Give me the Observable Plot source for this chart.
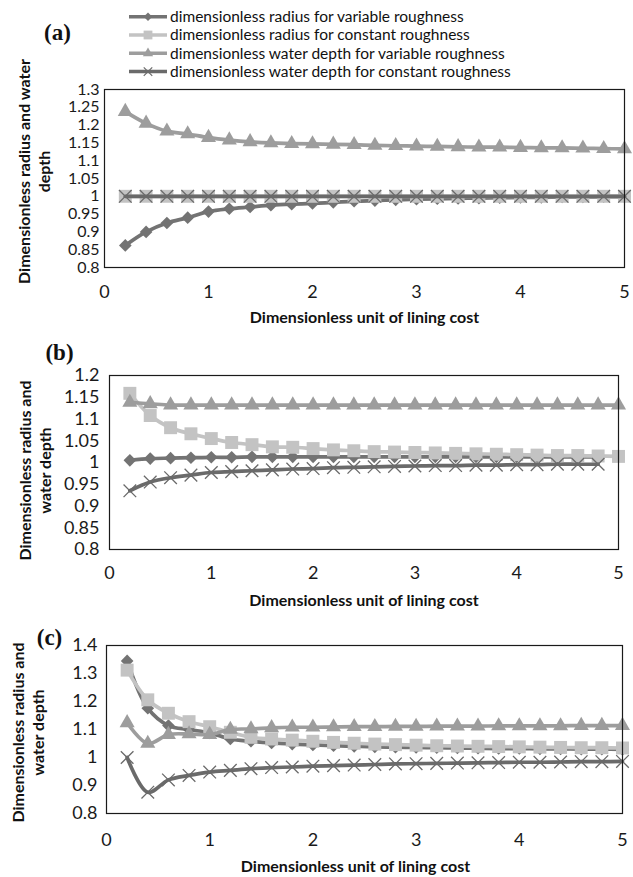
<!DOCTYPE html>
<html>
<head>
<meta charset="utf-8">
<script src="https://cdn.jsdelivr.net/npm/d3@7"></script>
<script src="https://cdn.jsdelivr.net/npm/@observablehq/plot@0.6"></script>
<style>
  html, body { margin: 0; padding: 0; background: #fff; }
  #root { position: relative; width: 633px; height: 877px; overflow: hidden; font-family: Lato, sans-serif; }
  .panel { position: absolute; left: 0; }
  #legend { position: absolute; left: 0; top: 0; }
</style>
</head>
<body>
<div id="root"></div>
<script>
// ---------- data ----------
const xs = [0.2, 0.4, 0.6, 0.8, 1.0, 1.2, 1.4, 1.6, 1.8, 2.0, 2.2, 2.4, 2.6, 2.8, 3.0, 3.2, 3.4, 3.6, 3.8, 4.0, 4.2, 4.4, 4.6, 4.8, 5.0];
const seriesNames = [
  "dimensionless radius for variable roughness",
  "dimensionless radius for constant roughness",
  "dimensionless water depth for variable roughness",
  "dimensionless water depth for constant roughness"
];
const xTicks = [0, 1, 2, 3, 4, 5];
const xTitle = "Dimensionless unit of lining cost";

// panel (a)
const aRadiusVar   = [0.862, 0.900, 0.925, 0.940, 0.957, 0.965, 0.970, 0.975, 0.978, 0.980, 0.983, 0.986, 0.988, 0.990, 0.992, 0.993, 0.994, 0.995, 0.996, 0.997, 0.997, 0.998, 0.998, 0.999, 0.999];
const aRadiusConst = [1, 1, 1, 1, 1, 1, 1, 1, 1, 1, 1, 1, 1, 1, 1, 1, 1, 1, 1, 1, 1, 1, 1, 1, 1];
const aDepthVar    = [1.238, 1.205, 1.183, 1.175, 1.165, 1.158, 1.153, 1.150, 1.148, 1.147, 1.146, 1.145, 1.143, 1.142, 1.141, 1.140, 1.139, 1.138, 1.138, 1.137, 1.136, 1.136, 1.135, 1.134, 1.133];
const aDepthConst  = [1, 1, 1, 1, 1, 1, 1, 1, 1, 1, 1, 1, 1, 1, 1, 1, 1, 1, 1, 1, 1, 1, 1, 1, 1];
const aYTicks = [0.8, 0.85, 0.9, 0.95, 1, 1.05, 1.1, 1.15, 1.2, 1.25, 1.3];
const aYTitle = "Dimensionless radius and water\ndepth";

// panel (b)
const bRadiusVar   = [1.005, 1.009, 1.010, 1.011, 1.012, 1.012, 1.013, 1.013, 1.013, 1.013, 1.013, 1.013, 1.013, 1.013, 1.013, 1.013, 1.013, 1.013, 1.013, 1.013, 1.013, 1.013, 1.013, 1.013];
const bRadiusConst = [1.159, 1.108, 1.080, 1.066, 1.055, 1.046, 1.041, 1.036, 1.035, 1.032, 1.029, 1.027, 1.025, 1.024, 1.023, 1.022, 1.021, 1.020, 1.019, 1.018, 1.017, 1.016, 1.016, 1.015, 1.014];
const bDepthVar    = [1.138, 1.135, 1.132, 1.132, 1.132, 1.132, 1.132, 1.132, 1.132, 1.132, 1.132, 1.132, 1.132, 1.132, 1.132, 1.132, 1.132, 1.132, 1.132, 1.132, 1.132, 1.132, 1.132, 1.132, 1.132];
const bDepthConst  = [0.935, 0.955, 0.965, 0.971, 0.977, 0.979, 0.981, 0.983, 0.985, 0.986, 0.988, 0.989, 0.990, 0.991, 0.992, 0.993, 0.993, 0.994, 0.994, 0.995, 0.995, 0.996, 0.996, 0.996];
const bYTicks = [0.8, 0.85, 0.9, 0.95, 1, 1.05, 1.1, 1.15, 1.2];
const bYTitle = "Dimensionless radius and\nwater depth";

// panel (c)
const cRadiusVar   = [1.345, 1.176, 1.114, 1.100, 1.088, 1.066, 1.058, 1.052, 1.048, 1.045, 1.042, 1.040, 1.038, 1.037, 1.036, 1.035, 1.034, 1.033, 1.032, 1.032, 1.031, 1.031, 1.030, 1.030, 1.029];
const cRadiusConst = [1.312, 1.206, 1.158, 1.128, 1.110, 1.090, 1.072, 1.066, 1.062, 1.058, 1.054, 1.051, 1.048, 1.046, 1.044, 1.042, 1.041, 1.040, 1.039, 1.038, 1.037, 1.036, 1.035, 1.035, 1.034];
const cDepthVar    = [1.124, 1.050, 1.082, 1.084, 1.082, 1.100, 1.102, 1.106, 1.108, 1.108, 1.109, 1.110, 1.110, 1.111, 1.111, 1.112, 1.112, 1.112, 1.113, 1.113, 1.113, 1.113, 1.114, 1.114, 1.114];
const cDepthConst  = [1.000, 0.876, 0.920, 0.936, 0.948, 0.954, 0.960, 0.964, 0.966, 0.969, 0.971, 0.973, 0.975, 0.977, 0.978, 0.979, 0.980, 0.981, 0.982, 0.983, 0.983, 0.984, 0.985, 0.985, 0.986];
const cYTicks = [0.8, 0.9, 1, 1.1, 1.2, 1.3, 1.4];
const cYTitle = "Dimensionless radius and\nwater depth";

// ---------- styles ----------
const seriesStyle = [
  {color: "#737373", symbol: "diamond2", r: 5.7},
  {color: "#c3c3c3", symbol: "square", r: 7.3},
  {color: "#9d9d9d", symbol: "triangle", r: 5.6},
  {color: "#6a6a6a", symbol: "times", r: 5.8}
];
const sansFont = "Lato, 'Open Sans', sans-serif";

function buildPanel(cfg) {
  const marks = [];
  cfg.series.forEach((vals, i) => {
    const data = vals.map((v, j) => ({x: xs[j], y: v}));
    const st = seriesStyle[i];
    marks.push(Plot.line(data, {x: "x", y: "y", stroke: st.color, strokeWidth: 3.7, curve: "catmull-rom"}));
    if (st.symbol === "times") {
      marks.push(Plot.dot(data, {x: "x", y: "y", symbol: "times", r: st.r, stroke: st.color, strokeWidth: 1.3, fill: "none"}));
    } else {
      marks.push(Plot.dot(data, {x: "x", y: "y", symbol: st.symbol, r: st.r, fill: st.color, stroke: "none"}));
    }
  });
  marks.push(Plot.frame({stroke: "#1a1a1a", strokeWidth: 1.2}));
  marks.push(Plot.axisX({ticks: xTicks, tickSize: 0, tickPadding: cfg.xTickPad, tickFormat: d => String(d), fontSize: 18, label: null}));
  marks.push(Plot.axisY({ticks: cfg.yTicks, tickSize: 0, tickPadding: cfg.yTickPad, tickFormat: d => String(d), fontSize: cfg.yFont, label: null}));
  marks.push(Plot.text([cfg.letter], {text: d => d, frameAnchor: "top-left", dx: cfg.letterDx, dy: cfg.letterDy,
    fontFamily: "'Liberation Serif', 'Times New Roman', serif", fontWeight: "bold", fontSize: 23,
    textAnchor: "middle", lineAnchor: "middle", fill: "#111"}));
  marks.push(Plot.text([cfg.yTitle], {text: d => d, frameAnchor: "left", rotate: -90, dx: cfg.yTitleDx, dy: cfg.yTitleDy,
    fontWeight: "bold", fontSize: 16, lineHeight: 1.25, textAnchor: "middle", lineAnchor: "middle", fill: "#111"}));
  marks.push(Plot.text([xTitle], {text: d => d, frameAnchor: "bottom", dx: cfg.xTitleDx, dy: cfg.xTitleDy,
    fontWeight: "bold", fontSize: 16, textAnchor: "middle", lineAnchor: "middle", fill: "#111"}));

  const svg = Plot.plot({
    width: 633,
    height: cfg.height,
    marginTop: cfg.mt, marginBottom: cfg.mb, marginLeft: cfg.ml, marginRight: cfg.mr,
    x: {domain: [0, 5]},
    y: {domain: cfg.yDomain},
    style: {fontFamily: sansFont, fontSize: "18px", color: "#1a1a1a", background: "transparent", overflow: "visible"},
    marks
  });
  const div = document.createElement("div");
  div.className = "panel";
  div.style.top = cfg.top + "px";
  div.appendChild(svg);
  return div;
}

const root = document.getElementById("root");

root.appendChild(buildPanel({
  series: [aRadiusVar, aRadiusConst, aDepthVar, aDepthConst],
  yDomain: [0.8, 1.3], yTicks: aYTicks, yTitle: aYTitle, letter: "(a)", yFont: 16,
  top: 0, height: 320, mt: 89, mb: 53, ml: 104, mr: 9,
  xTickPad: 18, yTickPad: 5,
  letterDx: -47, letterDy: -57, yTitleDx: -71, yTitleDy: -7, xTitleDx: 0, xTitleDy: 50
}));
root.appendChild(buildPanel({
  series: [bRadiusVar, bRadiusConst, bDepthVar, bDepthConst],
  yDomain: [0.8, 1.2], yTicks: bYTicks, yTitle: bYTitle, letter: "(b)", yFont: 18,
  top: 320, height: 290, mt: 55, mb: 61, ml: 109, mr: 15,
  xTickPad: 17, yTickPad: 10,
  letterDx: -50, letterDy: -23, yTitleDx: -75, yTitleDy: 8, xTitleDx: 0, xTitleDy: 51
}));
root.appendChild(buildPanel({
  series: [cRadiusVar, cRadiusConst, cDepthVar, cDepthConst],
  yDomain: [0.8, 1.4], yTicks: cYTicks, yTitle: cYTitle, letter: "(c)", yFont: 18,
  top: 610, height: 267, mt: 35, mb: 64, ml: 106, mr: 11,
  xTickPad: 20, yTickPad: 9,
  letterDx: -57, letterDy: -8, yTitleDx: -79, yTitleDy: 3, xTitleDx: -9, xTitleDy: 53
}));

// ---------- legend ----------
const legend = d3.create("svg").attr("id", "legend").attr("width", 633).attr("height", 84)
  .style("font-family", sansFont);
const symbolMap = {diamond2: d3.symbolDiamond2, square: d3.symbolSquare, triangle: d3.symbolTriangle, times: d3.symbolTimes};
seriesNames.forEach((name, i) => {
  const st = seriesStyle[i];
  const g = legend.append("g").attr("transform", `translate(0,${16.7 + i * 18.3})`);
  g.append("line").attr("x1", 129).attr("x2", 167).attr("y1", 0).attr("y2", 0)
    .attr("stroke", st.color).attr("stroke-width", 3.5);
  const rr = st.r * 0.68;
  const path = d3.symbol(symbolMap[st.symbol], rr * rr * Math.PI)();
  const p = g.append("path").attr("d", path).attr("transform", "translate(148,0)");
  if (st.symbol === "times") p.attr("fill", "none").attr("stroke", st.color).attr("stroke-width", 1.2);
  else p.attr("fill", st.color);
  g.append("text").attr("x", 170).attr("y", 0).attr("dy", "0.35em")
    .attr("font-size", 15.5).attr("fill", "#111").text(name);
});
root.appendChild(legend.node());
</script>
</body>
</html>
